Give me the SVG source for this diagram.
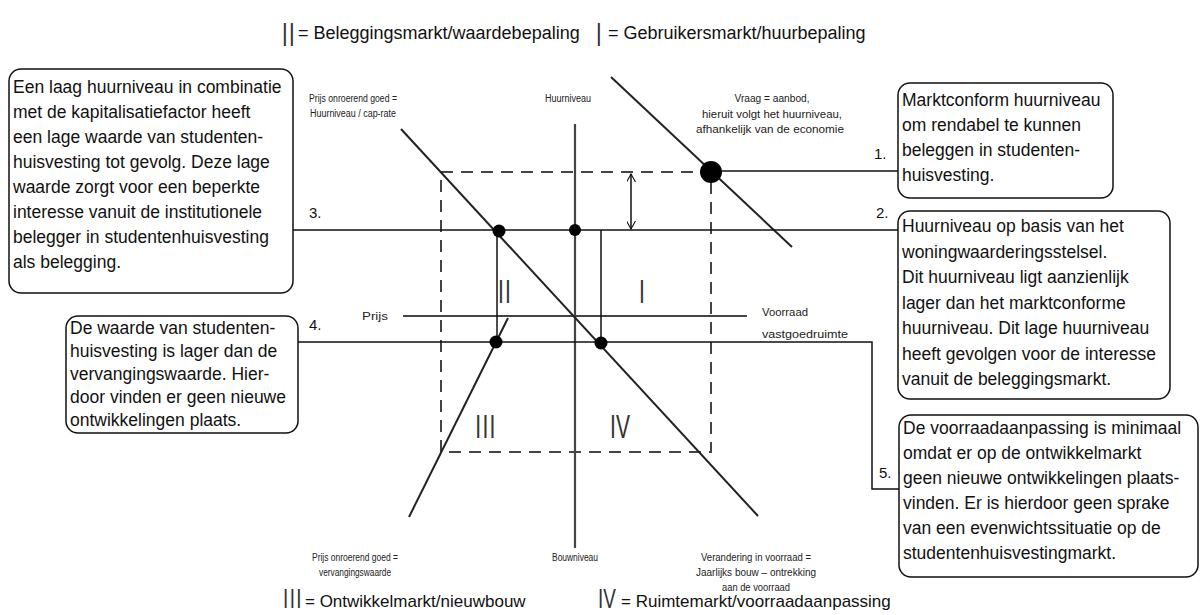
<svg xmlns="http://www.w3.org/2000/svg" width="1203" height="615" viewBox="0 0 1203 615">
<style>
.bg{fill:#fff}
.box{fill:#fff;stroke:#111;stroke-width:1.5}
.bt{font-family:"Liberation Sans",Arial,sans-serif;font-size:17.5px;fill:#111}
.num{font-family:"Liberation Sans",Arial,sans-serif;font-size:15px;fill:#111}
.ttl{font-family:"Liberation Sans",Arial,sans-serif;font-size:18px;fill:#111}
.ttlb{font-family:"Liberation Sans",Arial,sans-serif;font-size:17px;fill:#111}
.rom{font-family:"Liberation Sans",Arial,sans-serif;font-size:33px;fill:#333}
.romb{font-family:"Liberation Sans",Arial,sans-serif;font-size:27px;fill:#333}
.romq{font-family:"Liberation Sans",Arial,sans-serif;font-size:34px;fill:#333;text-anchor:middle}
.sm{font-family:"Liberation Sans",Arial,sans-serif;font-size:10px;fill:#222;text-anchor:middle}
.sml{font-family:"Liberation Sans",Arial,sans-serif;font-size:10px;fill:#222;text-anchor:start}
.ln{stroke:#222;stroke-width:2;fill:none}
.ax{stroke:#444;stroke-width:2.2;fill:none}
.th{stroke:#111;stroke-width:1.5;fill:none}
.dash{stroke:#444;stroke-width:2;stroke-dasharray:12 8;fill:none}
.dot{fill:#000}
</style>
<defs>
<marker id="open" viewBox="0 0 10 10" refX="9" refY="5" markerWidth="9" markerHeight="9" orient="auto-start-reverse" markerUnits="userSpaceOnUse">
<path d="M0,0 L9,5 L0,10" fill="none" stroke="#111" stroke-width="1.2"/>
</marker>
</defs>
<rect class="bg" x="0" y="0" width="1203" height="615"/>

<g id="title-top">
<text class="rom" transform="translate(282,46) scale(0.62,1)" letter-spacing="2">II</text>
<text class="ttl" x="298" y="39">= Beleggingsmarkt/waardebepaling</text>
<text class="rom" transform="translate(596,46) scale(0.62,1)">I</text>
<text class="ttl" x="608" y="39">= Gebruikersmarkt/huurbepaling</text>
</g>
<g id="title-bottom">
<text class="romb" transform="translate(283,608) scale(0.7,1)" letter-spacing="2">III</text>
<text class="ttlb" x="305" y="607">= Ontwikkelmarkt/nieuwbouw</text>
<text class="romb" transform="translate(598,608) scale(0.7,1)">IV</text>
<text class="ttlb" x="621" y="607">= Ruimtemarkt/voorraadaanpassing</text>
</g>

<g id="connectors">
<rect class="dash" x="441" y="172" width="270" height="280"/>
<line class="ax" x1="575" y1="124" x2="575" y2="548"/>
<line class="ax" x1="403" y1="316" x2="747" y2="316"/>
<line class="ln" x1="401" y1="129" x2="758" y2="516"/>
<line class="ln" x1="611" y1="77" x2="792" y2="247"/>
<line class="ln" x1="508" y1="318" x2="409" y2="517"/>
<line class="th" x1="711" y1="171" x2="898" y2="171"/>
<line class="th" x1="293" y1="230" x2="898" y2="230"/>
<polyline class="th" points="298,342 872,342 872,489 899,489"/>
<line class="th" x1="497" y1="230" x2="497" y2="342"/>
<line class="th" x1="601" y1="230" x2="601" y2="342"/>
<line class="th" x1="631" y1="174" x2="631" y2="229" marker-start="url(#open)" marker-end="url(#open)"/>
<circle class="dot" cx="711" cy="172" r="11"/>
<circle class="dot" cx="499" cy="231" r="6.5"/>
<circle class="dot" cx="575" cy="230" r="6"/>
<circle class="dot" cx="496" cy="342" r="6.5"/>
<circle class="dot" cx="601" cy="343" r="6.5"/>
<text class="num" x="874" y="159">1.</text>
<text class="num" x="876" y="218">2.</text>
<text class="num" x="309" y="218">3.</text>
<text class="num" x="309" y="330">4.</text>
<text class="num" x="879" y="478">5.</text>
</g>

<g id="quadrants">
<text class="romq" transform="translate(505,303) scale(0.62,1)" letter-spacing="2">II</text>
<text class="romq" transform="translate(642,303) scale(0.62,1)">I</text>
<text class="romq" transform="translate(486,438) scale(0.62,1)" letter-spacing="2">III</text>
<text class="romq" transform="translate(620,438) scale(0.62,1)">IV</text>
</g>

<g id="axis-labels">
<text class="sm" x="353" y="102" textLength="88" lengthAdjust="spacingAndGlyphs">Prijs onroerend goed =</text>
<text class="sm" x="353" y="117" textLength="86" lengthAdjust="spacingAndGlyphs">Huurniveau / cap-rate</text>
<text class="sm" x="568" y="102" textLength="46" lengthAdjust="spacingAndGlyphs">Huurniveau</text>
<text class="sm" x="772" y="102" textLength="75" lengthAdjust="spacingAndGlyphs">Vraag = aanbod,</text>
<text class="sm" x="772" y="118" textLength="140" lengthAdjust="spacingAndGlyphs">hieruit volgt het huurniveau,</text>
<text class="sm" x="770" y="133" textLength="148" lengthAdjust="spacingAndGlyphs">afhankelijk van de economie</text>
<text class="sm" x="375" y="320" textLength="26" lengthAdjust="spacingAndGlyphs">Prijs</text>
<text class="sml" x="762" y="316" textLength="46" lengthAdjust="spacingAndGlyphs">Voorraad</text>
<text class="sml" x="762" y="338" textLength="86" lengthAdjust="spacingAndGlyphs">vastgoedruimte</text>
<text class="sm" x="355" y="561" textLength="86" lengthAdjust="spacingAndGlyphs">Prijs onroerend goed =</text>
<text class="sm" x="355" y="576" textLength="72" lengthAdjust="spacingAndGlyphs">vervangingswaarde</text>
<text class="sm" x="575" y="561" textLength="46" lengthAdjust="spacingAndGlyphs">Bouwniveau</text>
<text class="sm" x="756" y="561" textLength="110" lengthAdjust="spacingAndGlyphs">Verandering in voorraad =</text>
<text class="sm" x="756" y="576" textLength="120" lengthAdjust="spacingAndGlyphs">Jaarlijks bouw – ontrekking</text>
<text class="sm" x="756" y="591" textLength="68" lengthAdjust="spacingAndGlyphs">aan de voorraad</text>
</g>

<g id="box3">
<rect class="box" x="9" y="69" width="284" height="224" rx="12"/>
<text class="bt" x="13" y="93">Een laag huurniveau in combinatie</text>
<text class="bt" x="13" y="118">met de kapitalisatiefactor heeft</text>
<text class="bt" x="13" y="143">een lage waarde van studenten-</text>
<text class="bt" x="13" y="168">huisvesting tot gevolg. Deze lage</text>
<text class="bt" x="13" y="193">waarde zorgt voor een beperkte</text>
<text class="bt" x="13" y="218">interesse vanuit de institutionele</text>
<text class="bt" x="13" y="243">belegger in studentenhuisvesting</text>
<text class="bt" x="13" y="268">als belegging.</text>
</g>

<g id="box1">
<rect class="box" x="898" y="83" width="215" height="115" rx="12"/>
<text class="bt" x="902" y="106">Marktconform huurniveau</text>
<text class="bt" x="902" y="131">om rendabel te kunnen</text>
<text class="bt" x="902" y="156">beleggen in studenten-</text>
<text class="bt" x="902" y="181">huisvesting.</text>
</g>

<g id="box2">
<rect class="box" x="898" y="211" width="272" height="188" rx="12"/>
<text class="bt" x="902" y="232">Huurniveau op basis van het</text>
<text class="bt" x="902" y="257.5">woningwaarderingsstelsel.</text>
<text class="bt" x="902" y="283">Dit huurniveau ligt aanzienlijk</text>
<text class="bt" x="902" y="308.5">lager dan het marktconforme</text>
<text class="bt" x="902" y="334">huurniveau. Dit lage huurniveau</text>
<text class="bt" x="902" y="359.5">heeft gevolgen voor de interesse</text>
<text class="bt" x="902" y="385">vanuit de beleggingsmarkt.</text>
</g>

<g id="box4">
<rect class="box" x="66" y="316" width="232" height="117" rx="12"/>
<text class="bt" x="70" y="334">De waarde van studenten-</text>
<text class="bt" x="70" y="357">huisvesting is lager dan de</text>
<text class="bt" x="70" y="380">vervangingswaarde. Hier-</text>
<text class="bt" x="70" y="403">door vinden er geen nieuwe</text>
<text class="bt" x="70" y="426">ontwikkelingen plaats.</text>
</g>

<g id="box5">
<rect class="box" x="899" y="415" width="299" height="162" rx="12"/>
<text class="bt" x="903" y="434">De voorraadaanpassing is minimaal</text>
<text class="bt" x="903" y="459">omdat er op de ontwikkelmarkt</text>
<text class="bt" x="903" y="484">geen nieuwe ontwikkelingen plaats-</text>
<text class="bt" x="903" y="509">vinden. Er is hierdoor geen sprake</text>
<text class="bt" x="903" y="534">van een evenwichtssituatie op de</text>
<text class="bt" x="903" y="559">studentenhuisvestingmarkt.</text>
</g>
</svg>
